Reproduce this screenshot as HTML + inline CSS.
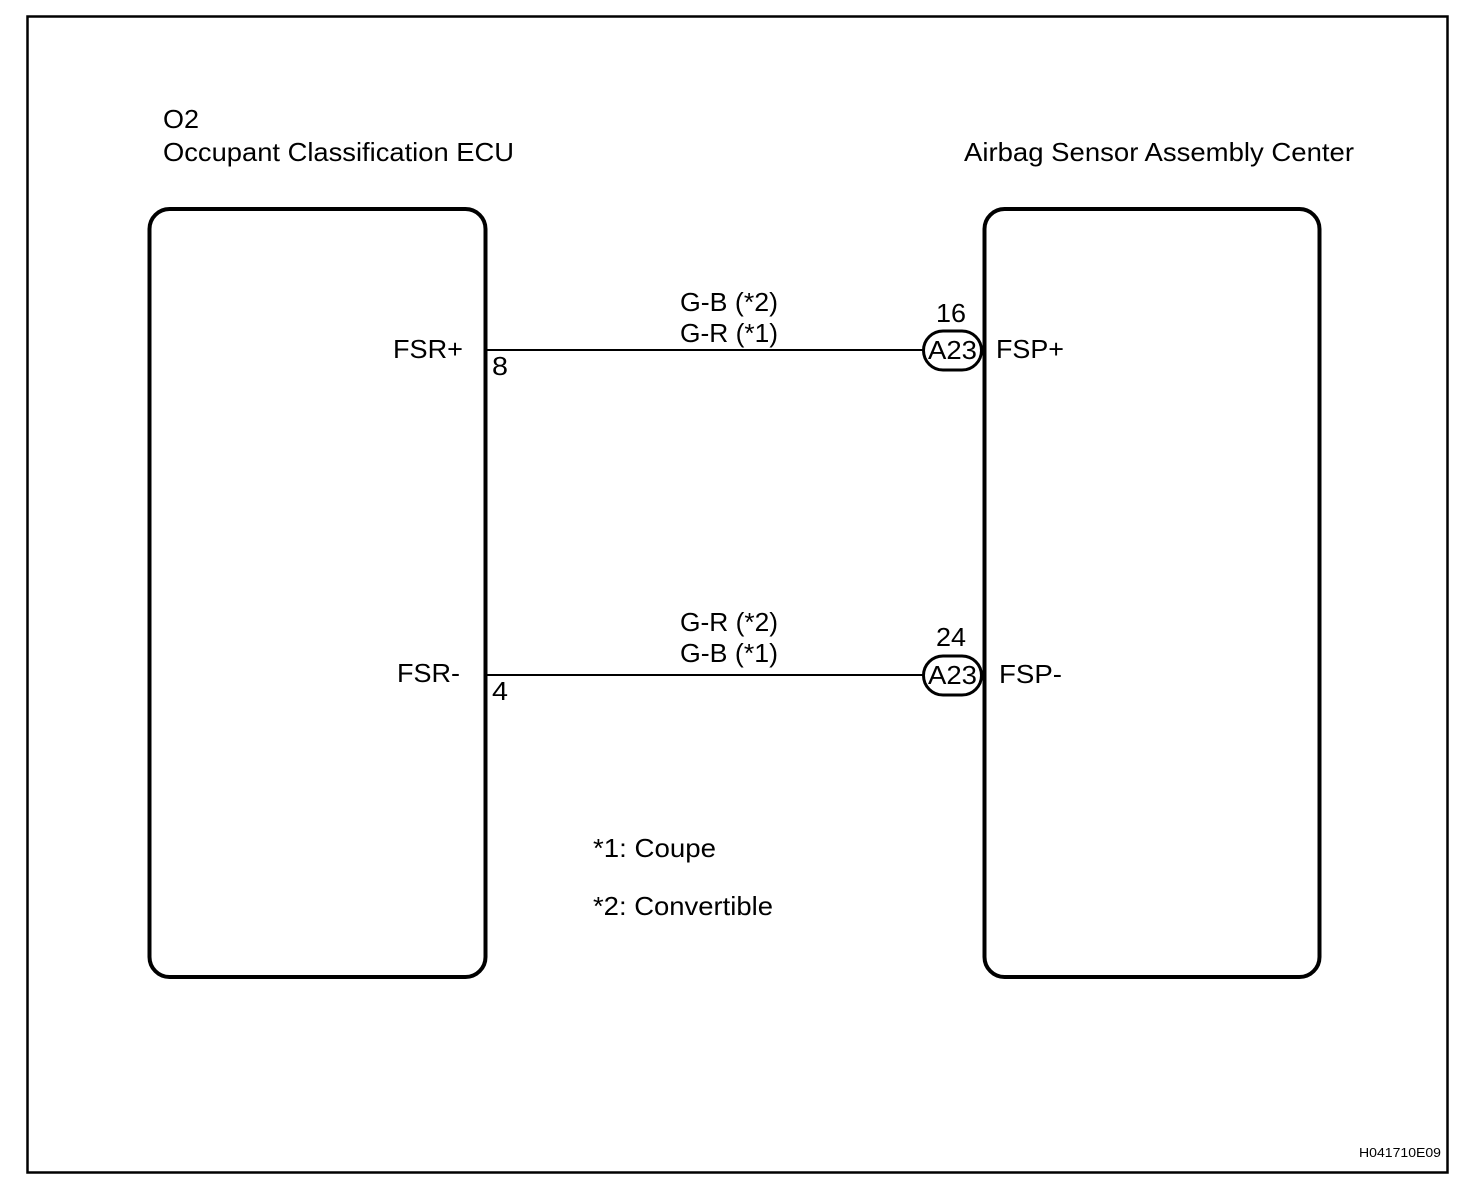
<!DOCTYPE html>
<html><head><style>html,body{margin:0;padding:0;background:#fff}svg{display:block}</style></head>
<body>
<svg width="1472" height="1198" viewBox="0 0 1472 1198" xmlns="http://www.w3.org/2000/svg" font-family="Liberation Sans, Arial, sans-serif" fill="#000">
<rect x="27.5" y="16.5" width="1420" height="1156" fill="none" stroke="#000" stroke-width="2.5"/>
<rect x="149.5" y="209" width="336" height="768" rx="20" fill="none" stroke="#000" stroke-width="4"/>
<rect x="984.5" y="209" width="335" height="768" rx="20" fill="none" stroke="#000" stroke-width="4"/>
<line x1="487" y1="350" x2="923" y2="350" stroke="#000" stroke-width="2"/>
<line x1="487" y1="675" x2="923" y2="675" stroke="#000" stroke-width="2"/>
<rect x="923.5" y="331" width="58" height="39" rx="19.5" fill="#fff" stroke="#000" stroke-width="3"/>
<rect x="923.5" y="656" width="58" height="39" rx="19.5" fill="#fff" stroke="#000" stroke-width="3"/>
<g font-size="26" lengthAdjust="spacingAndGlyphs">
<text x="163" y="128" textLength="36" lengthAdjust="spacingAndGlyphs">O2</text>
<text x="163" y="161" textLength="351" lengthAdjust="spacingAndGlyphs">Occupant Classification ECU</text>
<text x="964" y="161" textLength="390" lengthAdjust="spacingAndGlyphs">Airbag Sensor Assembly Center</text>
<text x="393" y="358" textLength="70" lengthAdjust="spacingAndGlyphs">FSR+</text>
<text x="492" y="375" textLength="16" lengthAdjust="spacingAndGlyphs">8</text>
<text x="397" y="682" textLength="63" lengthAdjust="spacingAndGlyphs">FSR-</text>
<text x="492" y="700" textLength="16" lengthAdjust="spacingAndGlyphs">4</text>
<text x="680" y="311" textLength="98" lengthAdjust="spacingAndGlyphs">G-B (*2)</text>
<text x="680" y="342" textLength="98" lengthAdjust="spacingAndGlyphs">G-R (*1)</text>
<text x="680" y="631" textLength="98" lengthAdjust="spacingAndGlyphs">G-R (*2)</text>
<text x="680" y="662" textLength="98" lengthAdjust="spacingAndGlyphs">G-B (*1)</text>
<text x="936" y="322" textLength="30" lengthAdjust="spacingAndGlyphs">16</text>
<text x="936" y="646" textLength="30" lengthAdjust="spacingAndGlyphs">24</text>
<text x="928" y="359" textLength="49" lengthAdjust="spacingAndGlyphs">A23</text>
<text x="928" y="684" textLength="49" lengthAdjust="spacingAndGlyphs">A23</text>
<text x="996" y="358" textLength="68" lengthAdjust="spacingAndGlyphs">FSP+</text>
<text x="999" y="683" textLength="63" lengthAdjust="spacingAndGlyphs">FSP-</text>
<text x="593" y="857" textLength="123" lengthAdjust="spacingAndGlyphs">*1: Coupe</text>
<text x="593" y="915" textLength="180" lengthAdjust="spacingAndGlyphs">*2: Convertible</text>
</g>
<text x="1359" y="1157" font-size="13" textLength="82" lengthAdjust="spacingAndGlyphs">H041710E09</text>
</svg>
</body></html>
